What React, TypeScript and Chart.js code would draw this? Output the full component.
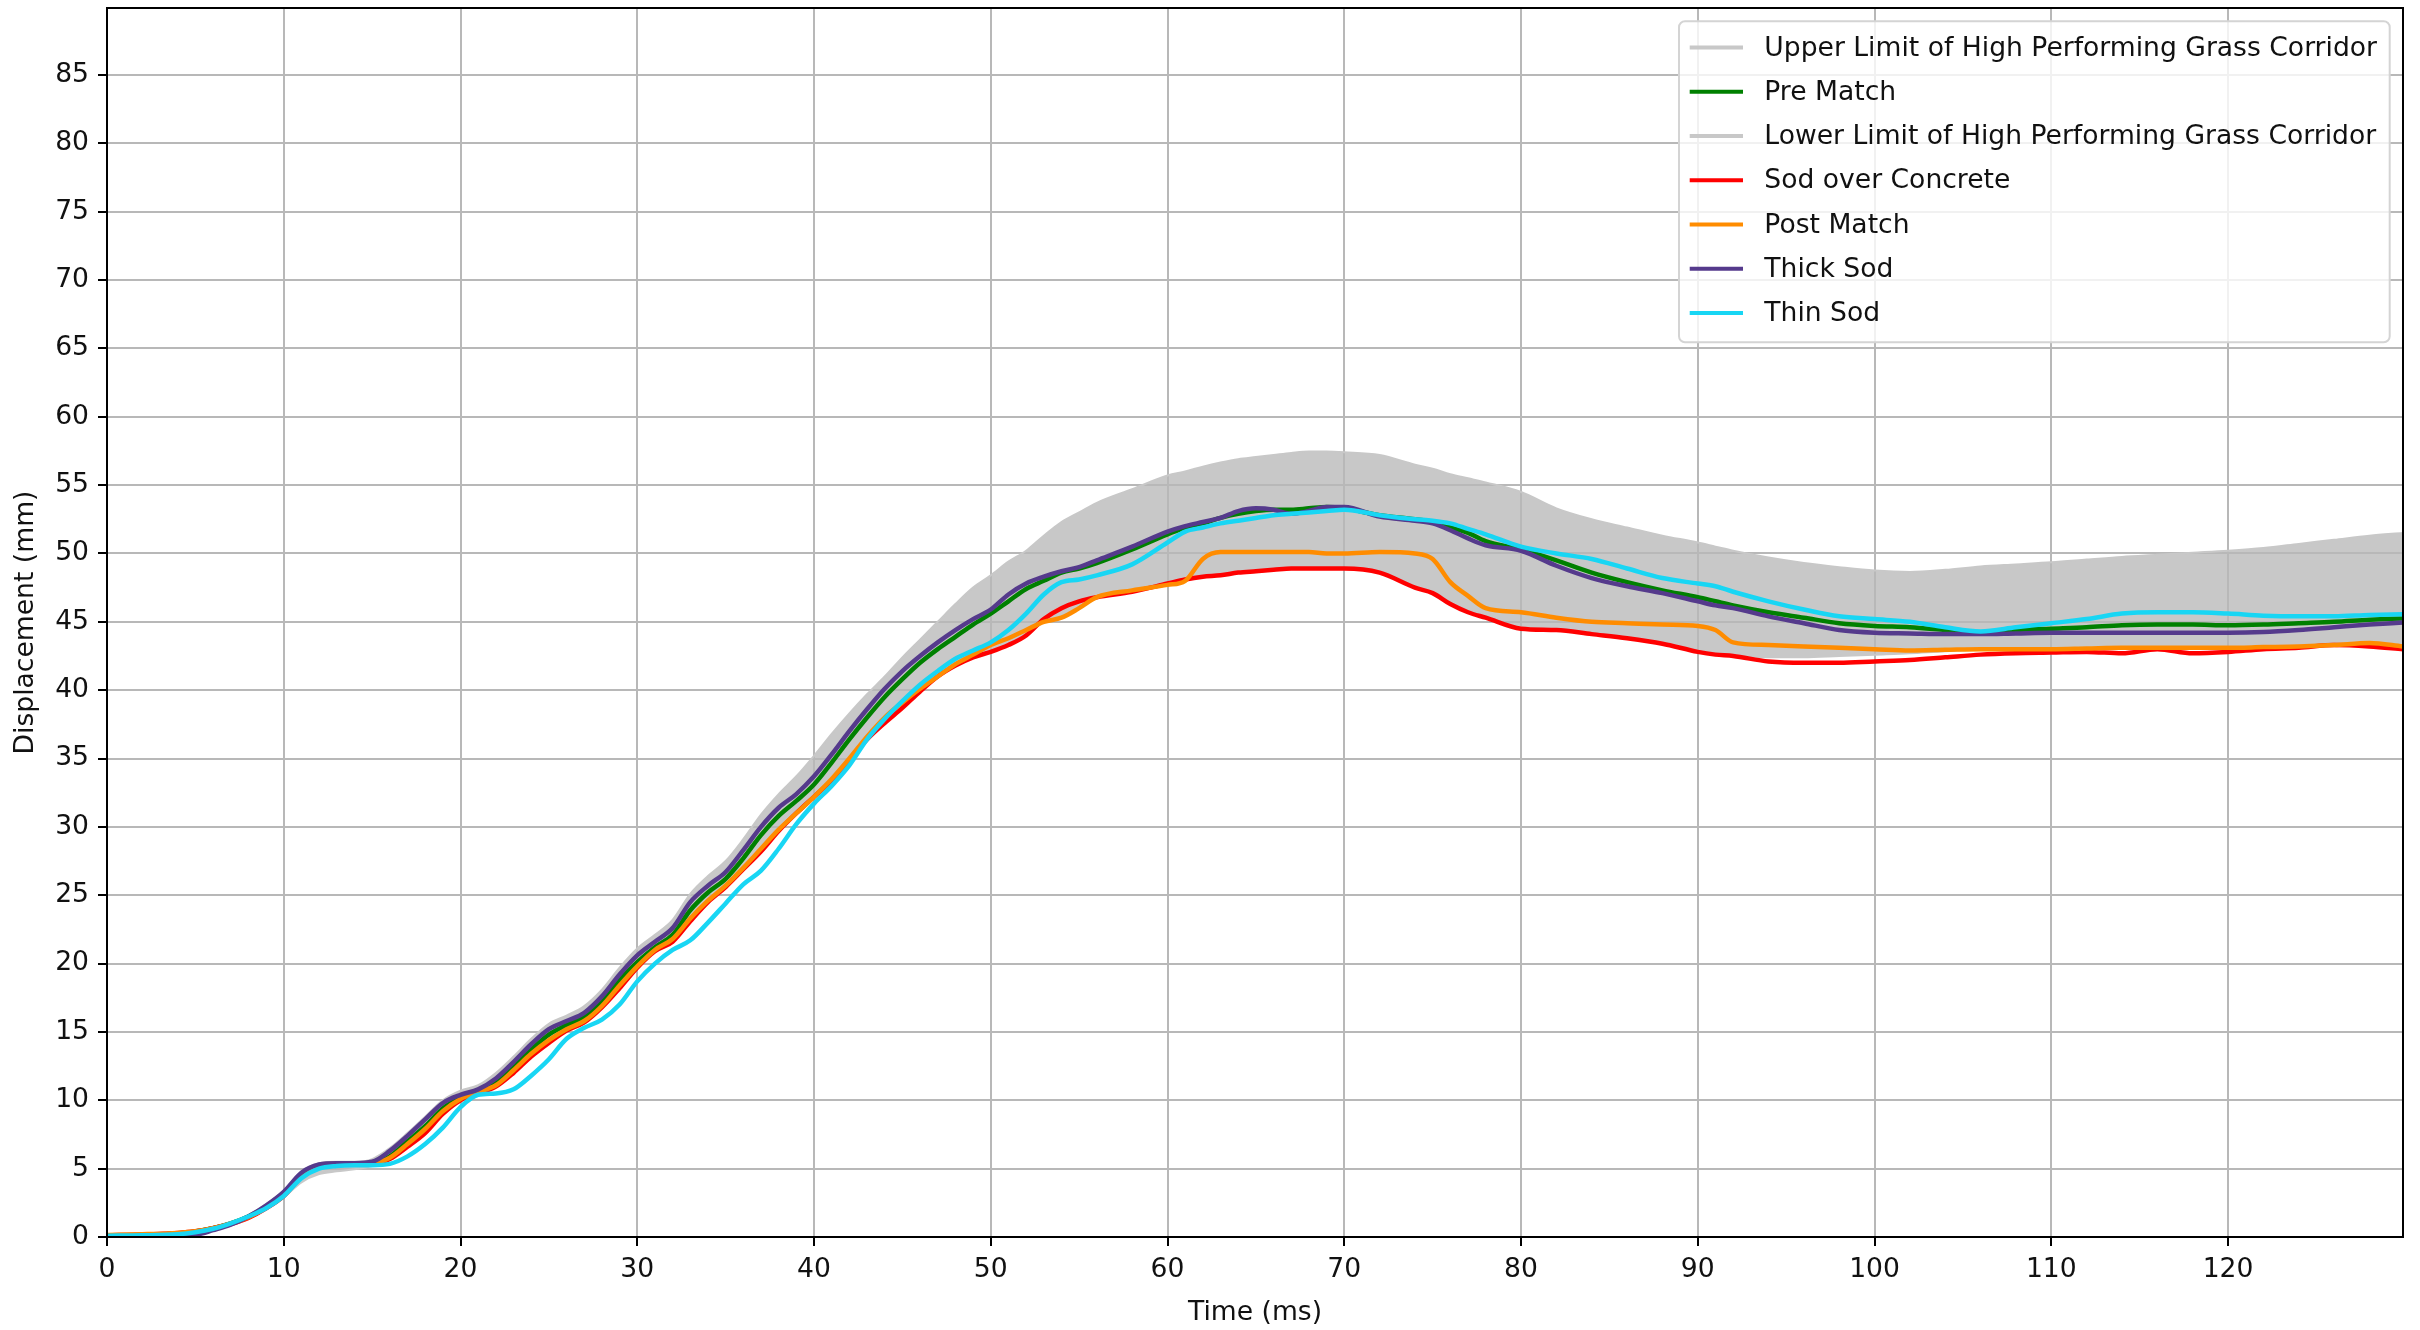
import React, { useEffect, useRef } from 'react';
import { Chart, registerables } from 'chart.js';

Chart.register(...registerables);

// ---------------- data ----------------
const times = [
  0, 2, 4, 5, 6, 7, 8, 9, 10, 11, 12, 13, 14, 15, 16, 17, 18, 19, 20, 21, 22, 23, 24, 25, 26, 27, 28, 29,
  30, 31, 32, 33, 34, 35, 36, 37, 38, 39, 40, 41, 42, 43, 44, 45, 46, 47, 48, 49, 50, 51, 52, 53, 54, 55,
  56, 58, 60, 61, 62, 63, 64, 65, 66, 67, 68, 69, 70, 72, 74, 75, 76, 77, 78, 80, 82, 84, 86, 88, 90, 91,
  92, 94, 96, 98, 100, 102, 104, 106, 108, 110, 112, 114, 116, 118, 120, 122, 124, 126, 128, 129.9,
];

const upperLimit = [
  0.2, 0.25, 0.35, 0.5, 0.75, 1.1, 1.6, 2.4, 3.4, 4.8, 5.4, 5.5, 5.5, 5.7, 6.5, 7.6, 8.8, 10.0, 10.7, 11.1, 12.0, 13.2, 14.5, 15.6, 16.2, 16.9, 18.1, 19.7,
  21.1, 22.1, 23.2, 25.1, 26.4, 27.5, 29.1, 30.9, 32.4, 33.7, 35.2, 36.8, 38.3, 39.7, 41.0, 42.4, 43.7, 45.0, 46.3, 47.5, 48.4, 49.4, 50.2, 51.3, 52.3, 53.0,
  53.7, 54.7, 55.7, 56.0, 56.35, 56.65, 56.9, 57.05, 57.2, 57.35, 57.45, 57.45, 57.4, 57.2, 56.5, 56.2, 55.8, 55.5, 55.2, 54.5, 53.3, 52.5, 51.9, 51.3, 50.8, 50.5,
  50.2, 49.7, 49.3, 49.0, 48.75, 48.65, 48.8, 49.05, 49.2, 49.35, 49.55, 49.75, 49.9, 50.05, 50.2, 50.4, 50.7, 51.0, 51.3, 51.5,
];

const preMatch = [
  0.1, 0.15, 0.25, 0.4, 0.65, 1.0, 1.5, 2.2, 3.1, 4.5, 5.15, 5.3, 5.3, 5.4, 5.9, 7.0, 8.1, 9.4, 10.2, 10.7, 11.3, 12.5, 13.7, 14.8, 15.5, 16.1, 17.3, 18.8,
  20.1, 21.2, 22.1, 23.9, 25.2, 26.2, 27.7, 29.4, 30.8, 31.9, 33.1, 34.7, 36.4, 38.0, 39.5, 40.8, 42.0, 43.0, 43.9, 44.8, 45.6, 46.5, 47.4, 48.0, 48.6, 48.9,
  49.3, 50.3, 51.4, 51.9, 52.2, 52.6, 52.9, 53.1, 53.2, 53.2, 53.3, 53.4, 53.3, 52.8, 52.5, 52.3, 51.9, 51.5, 50.9, 50.3, 49.5, 48.6, 47.9, 47.3, 46.8, 46.5,
  46.2, 45.7, 45.3, 44.9, 44.7, 44.6, 44.4, 44.2, 44.4, 44.5, 44.6, 44.75, 44.8, 44.8, 44.75, 44.8, 44.9, 45.0, 45.15, 45.25,
];

const lowerLimit = [
  0.05, 0.1, 0.2, 0.3, 0.55, 0.9, 1.4, 2.0, 2.9, 4.0, 4.6, 4.8, 4.95, 5.2, 5.65, 6.55, 7.6, 9.0, 10.0, 10.5, 11.0, 12.0, 13.2, 14.2, 15.1, 15.7, 16.8, 18.2,
  19.7, 20.9, 21.6, 23.1, 24.5, 25.6, 26.9, 28.2, 29.7, 31.0, 32.2, 33.4, 34.9, 36.4, 37.6, 38.7, 39.9, 41.0, 41.8, 42.4, 42.8, 43.3, 44.0, 45.0, 45.3, 46.0,
  46.8, 47.2, 47.7, 48.0, 48.3, 48.4, 48.6, 48.7, 48.8, 48.9, 48.9, 48.9, 48.9, 48.6, 47.5, 47.1, 46.3, 45.7, 45.3, 44.6, 44.4, 44.1, 43.8, 43.4, 42.9, 42.7,
  42.6, 42.4, 42.4, 42.5, 42.6, 42.7, 42.85, 42.95, 43.0, 43.0, 43.05, 43.05, 43.1, 43.1, 43.1, 43.15, 43.2, 43.3, 43.35, 43.3,
];

const sodOverConcrete = [
  0.12, 0.18, 0.3, 0.42, 0.65, 0.95, 1.4, 2.1, 3.0, 4.4, 5.15, 5.3, 5.3, 5.35, 5.7, 6.6, 7.6, 9.0, 10.0, 10.5, 11.0, 12.0, 13.2, 14.2, 15.1, 15.7, 16.8, 18.2,
  19.7, 20.9, 21.6, 23.1, 24.5, 25.6, 26.9, 28.2, 29.7, 31.0, 32.2, 33.4, 34.9, 36.4, 37.6, 38.7, 39.9, 41.0, 41.8, 42.4, 42.8, 43.3, 44.0, 45.2, 46.0, 46.5,
  46.8, 47.2, 47.8, 48.1, 48.3, 48.4, 48.6, 48.7, 48.8, 48.9, 48.9, 48.9, 48.9, 48.6, 47.5, 47.1, 46.3, 45.7, 45.3, 44.5, 44.4, 44.1, 43.8, 43.4, 42.8, 42.6,
  42.5, 42.1, 42.0, 42.0, 42.1, 42.2, 42.4, 42.6, 42.7, 42.75, 42.8, 42.7, 43.0, 42.7, 42.8, 43.0, 43.1, 43.3, 43.2, 43.0,
];

const postMatch = [
  0.15, 0.2, 0.3, 0.42, 0.65, 0.98, 1.45, 2.15, 3.05, 4.45, 5.2, 5.35, 5.35, 5.4, 5.8, 6.8, 7.9, 9.2, 10.1, 10.6, 11.1, 12.2, 13.4, 14.4, 15.2, 15.8, 16.9, 18.4,
  19.8, 21.0, 21.8, 23.3, 24.6, 25.7, 27.0, 28.4, 29.8, 31.0, 32.2, 33.5, 35.0, 36.6, 38.0, 39.1, 40.1, 41.0, 41.9, 42.6, 43.3, 43.8, 44.4, 45.0, 45.3, 46.0,
  46.8, 47.3, 47.7, 48.0, 49.6, 50.1, 50.1, 50.1, 50.1, 50.1, 50.1, 50.0, 50.0, 50.1, 50.0, 49.6, 47.9, 46.9, 46.0, 45.7, 45.3, 45.0, 44.9, 44.8, 44.7, 44.4,
  43.5, 43.3, 43.2, 43.1, 43.0, 42.9, 42.95, 43.0, 43.0, 43.0, 43.05, 43.1, 43.1, 43.1, 43.1, 43.15, 43.2, 43.3, 43.45, 43.2,
];

const thickSod = [
  0.0, 0.0, 0.05, 0.15, 0.5, 0.9, 1.5, 2.3, 3.3, 4.7, 5.3, 5.4, 5.4, 5.5, 6.3, 7.4, 8.6, 9.8, 10.4, 10.8, 11.6, 12.8, 14.1, 15.2, 15.8, 16.4, 17.6, 19.2,
  20.6, 21.6, 22.6, 24.5, 25.7, 26.7, 28.3, 30.0, 31.4, 32.4, 33.7, 35.3, 37.0, 38.6, 40.1, 41.4, 42.5, 43.5, 44.4, 45.2, 45.9, 47.0, 47.8, 48.3, 48.7, 49.0,
  49.5, 50.5, 51.6, 52.0, 52.3, 52.6, 53.1, 53.3, 53.2, 52.9, 53.1, 53.4, 53.4, 52.7, 52.4, 52.2, 51.7, 51.1, 50.6, 50.2, 49.1, 48.2, 47.6, 47.1, 46.5, 46.2,
  46.0, 45.4, 44.9, 44.4, 44.2, 44.15, 44.1, 44.1, 44.15, 44.2, 44.2, 44.2, 44.2, 44.2, 44.2, 44.25, 44.4, 44.6, 44.8, 44.95,
];

const thinSod = [
  0.1, 0.12, 0.2, 0.35, 0.6, 1.0, 1.5, 2.1, 3.0, 4.3, 5.0, 5.2, 5.25, 5.25, 5.35, 5.9, 6.8, 8.0, 9.5, 10.4, 10.5, 10.8, 11.8, 13.0, 14.5, 15.3, 15.9, 17.0,
  18.7, 20.0, 21.0, 21.7, 23.0, 24.4, 25.8, 26.8, 28.4, 30.2, 31.7, 33.0, 34.5, 36.4, 37.9, 39.2, 40.4, 41.4, 42.3, 42.9, 43.5, 44.4, 45.6, 47.0, 47.9, 48.1,
  48.4, 49.2, 50.8, 51.6, 51.9, 52.2, 52.4, 52.6, 52.8, 52.9, 53.0, 53.1, 53.2, 52.8, 52.5, 52.4, 52.2, 51.8, 51.4, 50.5, 50.0, 49.6, 48.9, 48.2, 47.8, 47.6,
  47.2, 46.5, 45.9, 45.4, 45.2, 45.0, 44.6, 44.3, 44.6, 44.9, 45.2, 45.6, 45.7, 45.7, 45.6, 45.45, 45.4, 45.4, 45.5, 45.55,
];

const seriesLabels = [
  'Upper Limit of High Performing Grass Corridor',
  'Pre Match',
  'Lower Limit of High Performing Grass Corridor',
  'Sod over Concrete',
  'Post Match',
  'Thick Sod',
  'Thin Sod',
];
const seriesValues = [upperLimit, preMatch, lowerLimit, sodOverConcrete, postMatch, thickSod, thinSod];
const seriesColors = ['#c8c8c8', '#008000', '#c8c8c8', '#ff0000', '#ff8c00', '#553a8c', '#18d6f4'];
// drawing order (higher = drawn earlier / further back)
const seriesOrder = [7, 6, 8, 4, 3, 2, 1];

const xTicks = [0, 10, 20, 30, 40, 50, 60, 70, 80, 90, 100, 110, 120];
const yTicks = [0, 5, 10, 15, 20, 25, 30, 35, 40, 45, 50, 55, 60, 65, 70, 75, 80, 85];
const xMax = 129.9;
const yMax = 89.9;
const xTitle = 'Time (ms)';
const yTitle = 'Displacement (mm)';

// ---------------- styling ----------------
const FONT_FAMILY = '"DejaVu Sans", "Liberation Sans", sans-serif';
const FS = 26.6;
const TEXT_COLOR = '#111';

const framePlugin = {
  id: 'mplFrame',
  afterDatasetsDraw(chart: any) {
    const { ctx, chartArea: a } = chart;
    ctx.save();
    ctx.strokeStyle = '#000';
    ctx.lineWidth = 2;
    ctx.strokeRect(a.left, a.top, a.right - a.left, a.bottom - a.top);
    ctx.restore();
  },
};

const legendPlugin = {
  id: 'mplLegend',
  afterDraw(chart: any) {
    const { ctx, chartArea: a } = chart;
    const ds = chart.data.datasets;
    ctx.save();
    ctx.font = `${FS}px ${FONT_FAMILY}`;
    let maxW = 0;
    ds.forEach((d: any) => {
      maxW = Math.max(maxW, ctx.measureText(d.label).width);
    });
    const pad = 10.7;
    const handleLen = 53.3;
    const gap = 21.3;
    const rowH = 44.25;
    const w = pad + handleLen + gap + maxW + pad + 2;
    const h = 321;
    const right = a.right - 13.3;
    const top = a.top + 13.3;
    const left = right - w;
    const r = 6;
    ctx.beginPath();
    ctx.moveTo(left + r, top);
    ctx.lineTo(left + w - r, top);
    ctx.arcTo(left + w, top, left + w, top + r, r);
    ctx.lineTo(left + w, top + h - r);
    ctx.arcTo(left + w, top + h, left + w - r, top + h, r);
    ctx.lineTo(left + r, top + h);
    ctx.arcTo(left, top + h, left, top + h - r, r);
    ctx.lineTo(left, top + r);
    ctx.arcTo(left, top, left + r, top, r);
    ctx.closePath();
    ctx.fillStyle = 'rgba(255,255,255,0.8)';
    ctx.fill();
    ctx.strokeStyle = '#d4d4d4';
    ctx.lineWidth = 2;
    ctx.stroke();

    ctx.textBaseline = 'middle';
    ctx.textAlign = 'left';
    ds.forEach((d: any, i: number) => {
      const cy = top + 26.3 + i * rowH;
      ctx.beginPath();
      ctx.strokeStyle = d.borderColor;
      ctx.lineWidth = 4;
      ctx.lineCap = 'butt';
      ctx.moveTo(left + pad, cy);
      ctx.lineTo(left + pad + handleLen, cy);
      ctx.stroke();
      ctx.fillStyle = TEXT_COLOR;
      ctx.fillText(d.label, left + pad + handleLen + gap, cy + 1);
    });
    ctx.restore();
  },
};

export default function App() {
  const canvasRef = useRef<HTMLCanvasElement | null>(null);

  useEffect(() => {
    const canvas = canvasRef.current;
    if (!canvas) return;
    const font = { family: FONT_FAMILY, size: FS };

    const datasets = seriesLabels.map((label, idx) => {
      const isLimit = idx === 0 || idx === 2;
      return {
        label,
        data: times.map((t, i) => ({ x: t, y: seriesValues[idx][i] })),
        borderColor: seriesColors[idx],
        backgroundColor: '#c8c8c8',
        borderWidth: isLimit ? 2 : 4.5,
        fill: idx === 0 ? 2 : false,
        pointRadius: 0,
        cubicInterpolationMode: 'monotone' as const,
        order: seriesOrder[idx],
      };
    });

    const chart = new Chart(canvas, {
      type: 'line',
      data: { datasets },
      options: {
        responsive: false,
        animation: false,
        devicePixelRatio: 1,
        layout: { padding: { left: 0, top: 8, right: 17, bottom: 0 } },
        plugins: {
          legend: { display: false },
          tooltip: { enabled: false },
          filler: { drawTime: 'beforeDraw', propagate: false },
        } as any,
        elements: { point: { radius: 0 }, line: { borderJoinStyle: 'round', borderCapStyle: 'butt' } },
        scales: {
          x: {
            type: 'linear',
            min: 0,
            max: xMax,
            afterBuildTicks: (s: any) => {
              s.ticks = xTicks.map((v) => ({ value: v }));
            },
            afterFit: (s: any) => {
              s.height = 93;
              s.paddingLeft = 0;
              s.paddingRight = 0;
            },
            ticks: {
              autoSkip: false,
              maxRotation: 0,
              padding: 8,
              color: TEXT_COLOR,
              font,
              callback: (v: any) => String(v),
            },
            grid: { color: '#b8b8b8', lineWidth: 2, tickLength: 9, tickColor: '#000', tickWidth: 2 },
            border: { display: false },
            title: { display: true, text: xTitle, color: TEXT_COLOR, font, padding: { top: 0, bottom: 1 } },
          },
          y: {
            type: 'linear',
            min: 0,
            max: yMax,
            afterBuildTicks: (s: any) => {
              s.ticks = yTicks.map((v) => ({ value: v }));
            },
            afterFit: (s: any) => {
              s.width = 107;
              s.paddingTop = 0;
              s.paddingBottom = 0;
            },
            ticks: {
              padding: 9,
              color: TEXT_COLOR,
              font,
              callback: (v: any) => String(v),
            },
            grid: { color: '#b8b8b8', lineWidth: 2, tickLength: 9, tickColor: '#000', tickWidth: 2 },
            border: { display: false },
            title: { display: true, text: yTitle, color: TEXT_COLOR, font, padding: { top: 10, bottom: 0 } },
          },
        },
      } as any,
      plugins: [framePlugin, legendPlugin],
    });

    return () => {
      chart.destroy();
    };
  }, []);

  return (
    <div style={{ position: 'fixed', left: 0, top: 0, width: 2420, height: 1330, background: '#fff' }}>
      <canvas ref={canvasRef} width={2420} height={1330} style={{ display: 'block', width: 2420, height: 1330 }} />
    </div>
  );
}
